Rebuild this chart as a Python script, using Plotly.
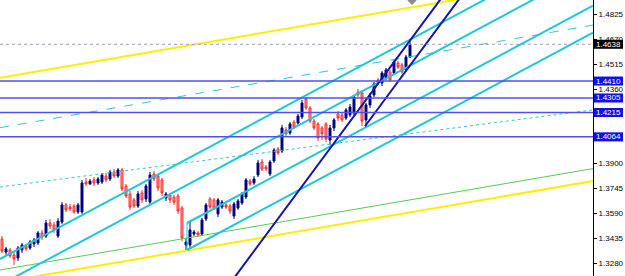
import plotly.graph_objects as go

# ---- candle data (EURUSD-like) ----
opens = [1.3431, 1.3350, 1.3363, 1.3332, 1.3313, 1.3363, 1.3387, 1.3375, 1.3400, 1.3406,
         1.3468, 1.3449, 1.3530, 1.3518, 1.3449, 1.3536, 1.3642, 1.3629, 1.3635, 1.3598,
         1.3598, 1.3784, 1.3772, 1.3797, 1.3778, 1.3784, 1.3821, 1.3803, 1.3846, 1.3821,
         1.3859, 1.3759, 1.3710, 1.3673, 1.3635, 1.3716, 1.3679, 1.3660, 1.3834, 1.3821,
         1.3797, 1.3685, 1.3704, 1.3691, 1.3697, 1.3623, 1.3394, 1.3394, 1.3462, 1.3468,
         1.3462, 1.3555, 1.3679, 1.3673, 1.3586, 1.3629, 1.3642, 1.3635, 1.3573, 1.3623,
         1.3654, 1.3691, 1.3790, 1.3778, 1.3828, 1.3908, 1.3877, 1.3834, 1.3914, 1.3989,
         1.3976, 1.4107, 1.4088, 1.4156, 1.4150, 1.4187, 1.4299, 1.4243, 1.4162, 1.4144,
         1.4119, 1.4144, 1.4045, 1.4119, 1.4206, 1.4200, 1.4181, 1.4200, 1.4212, 1.4342,
         1.4336, 1.4169, 1.4262, 1.4324, 1.4417, 1.4398, 1.4429, 1.4466, 1.4460, 1.4522,
         1.4510, 1.4479, 1.4559]
highs = [1.3449, 1.3381, 1.3375, 1.3350, 1.3387, 1.3406, 1.3400, 1.3425, 1.3437, 1.3480,
         1.3487, 1.3549, 1.3555, 1.3536, 1.3561, 1.3660, 1.3654, 1.3648, 1.3648, 1.3654,
         1.3797, 1.3809, 1.3803, 1.3815, 1.3815, 1.3840, 1.3840, 1.3859, 1.3865, 1.3871,
         1.3871, 1.3772, 1.3728, 1.3685, 1.3728, 1.3735, 1.3772, 1.3846, 1.3852, 1.3834,
         1.3809, 1.3722, 1.3716, 1.3704, 1.3710, 1.3635, 1.3437, 1.3536, 1.3487, 1.3480,
         1.3561, 1.3654, 1.3691, 1.3685, 1.3685, 1.3673, 1.3654, 1.3648, 1.3660, 1.3679,
         1.3722, 1.3809, 1.3803, 1.3821, 1.3921, 1.3927, 1.3890, 1.3921, 1.3995, 1.4001,
         1.4138, 1.4125, 1.4156, 1.4169, 1.4206, 1.4293, 1.4311, 1.4255, 1.4175, 1.4156,
         1.4131, 1.4156, 1.4138, 1.4181, 1.4224, 1.4212, 1.4243, 1.4268, 1.4324, 1.4361,
         1.4355, 1.4274, 1.4336, 1.4404, 1.4429, 1.4472, 1.4491, 1.4479, 1.4541, 1.4534,
         1.4522, 1.4572, 1.4665]
lows = [1.3344, 1.3332, 1.3313, 1.3270, 1.3294, 1.3344, 1.3356, 1.3363, 1.3381, 1.3394,
        1.3425, 1.3437, 1.3493, 1.3468, 1.3437, 1.3524, 1.3598, 1.3604, 1.3586, 1.3586,
        1.3586, 1.3759, 1.3766, 1.3759, 1.3766, 1.3772, 1.3784, 1.3790, 1.3809, 1.3809,
        1.3728, 1.3685, 1.3611, 1.3623, 1.3623, 1.3654, 1.3660, 1.3648, 1.3790, 1.3728,
        1.3697, 1.3666, 1.3654, 1.3642, 1.3586, 1.3418, 1.3356, 1.3375, 1.3449, 1.3443,
        1.3449, 1.3542, 1.3617, 1.3611, 1.3567, 1.3617, 1.3617, 1.3586, 1.3555, 1.3611,
        1.3642, 1.3679, 1.3759, 1.3766, 1.3815, 1.3852, 1.3852, 1.3821, 1.3902, 1.3952,
        1.3964, 1.4069, 1.4076, 1.4113, 1.4138, 1.4175, 1.4231, 1.4150, 1.4107, 1.4038,
        1.4045, 1.4032, 1.4014, 1.4100, 1.4162, 1.4156, 1.4169, 1.4187, 1.4200, 1.4311,
        1.4131, 1.4125, 1.4243, 1.4311, 1.4386, 1.4379, 1.4417, 1.4404, 1.4448, 1.4485,
        1.4454, 1.4466, 1.4553]
closes = [1.3356, 1.3369, 1.3325, 1.3307, 1.3375, 1.3394, 1.3369, 1.3412, 1.3425, 1.3468,
          1.3443, 1.3530, 1.3511, 1.3487, 1.3542, 1.3642, 1.3611, 1.3617, 1.3598, 1.3642,
          1.3778, 1.3772, 1.3790, 1.3778, 1.3803, 1.3828, 1.3797, 1.3846, 1.3821, 1.3859,
          1.3741, 1.3697, 1.3629, 1.3635, 1.3710, 1.3673, 1.3759, 1.3828, 1.3803, 1.3747,
          1.3716, 1.3710, 1.3673, 1.3660, 1.3604, 1.3437, 1.3412, 1.3487, 1.3474, 1.3456,
          1.3549, 1.3642, 1.3629, 1.3623, 1.3673, 1.3660, 1.3629, 1.3604, 1.3648, 1.3666,
          1.3710, 1.3797, 1.3772, 1.3803, 1.3902, 1.3865, 1.3865, 1.3908, 1.3983, 1.3964,
          1.4119, 1.4082, 1.4144, 1.4125, 1.4193, 1.4274, 1.4243, 1.4162, 1.4119, 1.4057,
          1.4082, 1.4051, 1.4119, 1.4169, 1.4181, 1.4169, 1.4231, 1.4249, 1.4311, 1.4324,
          1.4162, 1.4262, 1.4317, 1.4392, 1.4398, 1.4460, 1.4479, 1.4417, 1.4528, 1.4497,
          1.4466, 1.4559, 1.4638]
bars = list(range(len(opens)))

# ---- price axis ----
tick_vals = [1.3280, 1.3435, 1.3590, 1.3745, 1.3900, 1.4050, 1.4205, 1.4360, 1.4515, 1.4670, 1.4825]
tick_text = ["1.3280", "1.3435", "1.3590", "1.3745", "1.3900", "", "", "1.4360", "1.4515", "1.4670", "1.4825"]
levels = [1.4410, 1.4305, 1.4215, 1.4064]
last_price = 1.4638
x_range = [-0.5, 147.75]
y_range = [1.32013, 1.49125]

# ---- drawn objects: [bar, price] endpoints ----
yellow_upper = ([-0.5, 147.75], [1.44308, 1.50594])
yellow_lower = ([-0.5, 147.75], [1.31610, 1.37897])
green_line = ([-0.5, 147.75], [1.32385, 1.38672])
cyan_dash = ([-0.5, 147.75], [1.41208, 1.47569])
cyan_dot = ([-0.5, 147.75], [1.37531, 1.42311])
cyan_1 = ([-0.5, 147.75], [1.33067, 1.52740])
cyan_2 = ([-0.5, 147.75], [1.31455, 1.51128])
cyan_3 = ([46.25, 147.75], [1.35299, 1.48772])
cyan_4 = ([46.25, 147.75], [1.33625, 1.47098])
cyan_stub = ([46.25, 46.25], [1.35299, 1.33625])
navy_1 = ([57.0, 112.0], [1.31548, 1.49962])
navy_2 = ([90.75, 115.75], [1.41298, 1.49668])
arrow_mark = ([102.5], [1.4910])

fig = go.Figure()

fig.add_trace(go.Candlestick(
    x=bars, open=opens, high=highs, low=lows, close=closes,
    increasing=dict(line=dict(color="#000080", width=1), fillcolor="#000080"),
    decreasing=dict(line=dict(color="#ff2a2a", width=1), fillcolor="#ff9c9c"),
    whiskerwidth=0, showlegend=False, hoverinfo="skip"))

def seg(pts, color, width, dash="solid"):
    fig.add_trace(go.Scatter(x=pts[0], y=pts[1], mode="lines",
                             line=dict(color=color, width=width, dash=dash),
                             showlegend=False, hoverinfo="skip"))

seg(yellow_upper, "#ffee00", 2)
seg(yellow_lower, "#ffee00", 2)
seg(green_line, "#55cc55", 1)
seg(cyan_dash, "#30c8d8", 1, "dash")
seg(cyan_dot, "#30c8d8", 1, "dot")
for c in (cyan_1, cyan_2, cyan_3, cyan_4):
    seg(c, "#1ec8d4", 2)
seg(cyan_stub, "#1ec8d4", 1)
seg(navy_1, "#1414a8", 2)
seg(navy_2, "#1414a8", 2)

fig.add_trace(go.Scatter(x=arrow_mark[0], y=arrow_mark[1], mode="markers",
                         marker=dict(symbol="diamond", size=7, color="#8c8c8c"),
                         showlegend=False, hoverinfo="skip"))

shapes = []
for lv in levels:
    shapes.append(dict(type="line", xref="paper", x0=0, x1=1, yref="y", y0=lv, y1=lv,
                       line=dict(color="#5050ee", width=1.5), layer="above"))
shapes.append(dict(type="line", xref="paper", x0=0, x1=1, yref="y", y0=last_price, y1=last_price,
                   line=dict(color="#9a9ad0", width=1, dash="dot"), layer="above"))

# price boxes on the scale
half_box = 0.0028
box_x0 = 1 + 1.0 / 593
box_x1 = 1 + 30.0 / 593
annotations = []
for lv, col in [(l, "#1010e8") for l in levels] + [(last_price, "#000000")]:
    shapes.append(dict(type="rect", xref="paper", x0=box_x0, x1=box_x1, yref="y",
                       y0=lv - half_box, y1=lv + half_box,
                       fillcolor=col, line=dict(width=0), layer="above"))
    annotations.append(dict(x=(box_x0 + box_x1) / 2, xref="paper", xanchor="center",
                            y=lv, yref="y", yanchor="middle",
                            text=f"{lv:.4f}", showarrow=False,
                            font=dict(color="white", size=8, family="Liberation Sans"),
                            borderpad=0, borderwidth=0))

fig.update_layout(
    width=625, height=276,
    margin=dict(l=0, r=32, t=0, b=0),
    paper_bgcolor="white", plot_bgcolor="white",
    shapes=shapes, annotations=annotations,
    xaxis=dict(visible=False, range=x_range, rangeslider=dict(visible=False), fixedrange=True),
    yaxis=dict(side="right", range=y_range, tickvals=tick_vals, ticktext=tick_text,
               showgrid=False, zeroline=False, showline=True, linecolor="black", linewidth=1,
               ticks="outside", ticklen=3, tickcolor="black",
               tickfont=dict(size=8, color="black", family="Liberation Sans")),
    font=dict(family="Liberation Sans"),
)

fig.write_html("out.html")
